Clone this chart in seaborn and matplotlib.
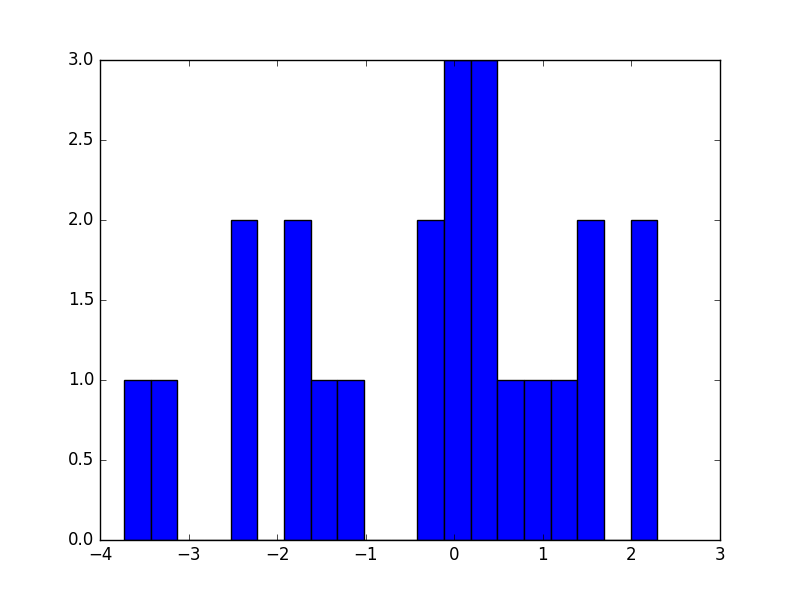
import numpy as np
import pandas as pd
import matplotlib
matplotlib.use("Agg")
import matplotlib.pyplot as plt
import seaborn as sns

# histogram: 20 equal bins
bin_lo = -3.729
bin_hi = 2.292
counts = [1, 1, 0, 0, 2, 0, 2, 1, 1, 0, 0, 2, 3, 3, 1, 1, 1, 2, 0, 2]

edges = np.linspace(bin_lo, bin_hi, len(counts) + 1)
df = pd.DataFrame({"centre": (edges[:-1] + edges[1:]) / 2, "count": counts})

plt.style.use("classic")
plt.rcParams["font.family"] = ["DejaVu Sans"]

fig, ax = plt.subplots(figsize=(8, 6), dpi=100)
fig.patch.set_facecolor("white")

sns.histplot(data=df, x="centre", weights="count", bins=len(counts),
             binrange=(bin_lo, bin_hi), ax=ax,
             color="#0000ff", edgecolor="black", linewidth=1.0, alpha=1.0)

ax.set_xlim(-4, 3)
ax.set_ylim(0, 3)
ax.set_xlabel("")
ax.set_ylabel("")

fig.savefig("out.png", dpi=100, facecolor="white")
